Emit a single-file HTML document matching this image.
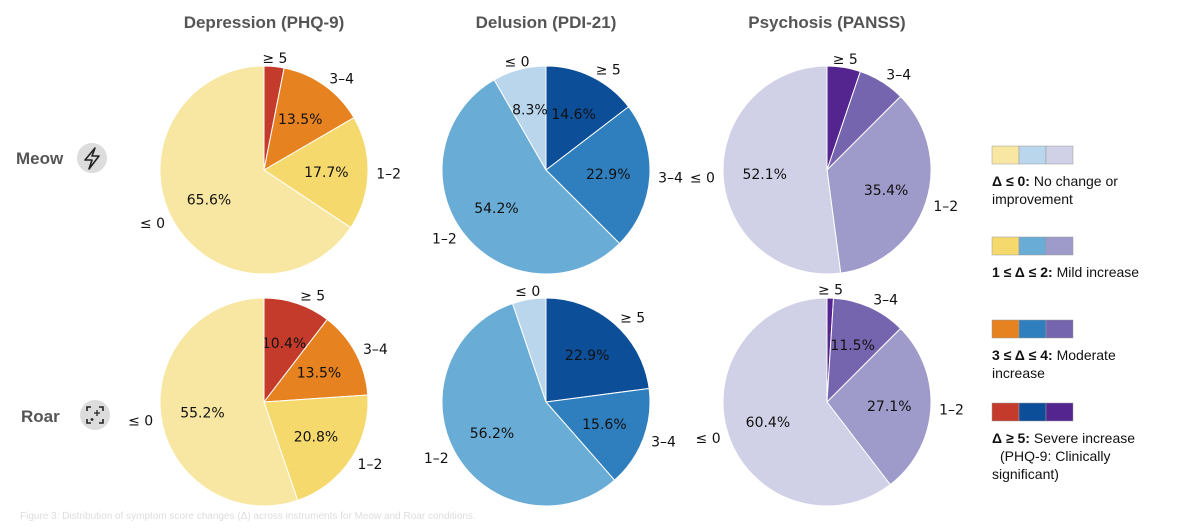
<!DOCTYPE html>
<html><head><meta charset="utf-8"><style>
body{margin:0;background:#fff;width:1183px;height:526px;overflow:hidden;font-family:"Liberation Sans",sans-serif}
</style></head><body>
<svg id="c" width="1183" height="526" xmlns="http://www.w3.org/2000/svg">
<g font-family="Liberation Sans, sans-serif" font-weight="bold" font-size="17" fill="#555" text-anchor="middle">
<text x="264" y="28">Depression (PHQ-9)</text>
<text x="546" y="28">Delusion (PDI-21)</text>
<text x="827" y="28">Psychosis (PANSS)</text>
</g>
<g>
<text x="16" y="164" font-weight="bold" font-size="17" fill="#555">Meow</text>
<circle cx="92" cy="158" r="15" fill="#dcdcdc"/>
<path d="M95 148 L85 160 L92 160 L89 169 L99 156 L92 156 Z" fill="none" stroke="#222" stroke-width="1.6" stroke-linejoin="round"/>
</g>
<g>
<text x="21" y="422" font-weight="bold" font-size="17" fill="#555">Roar</text>
<circle cx="95" cy="415" r="15" fill="#dcdcdc"/>
<path d="M87 411 v-4 h4 M99 407 h4 v4 M103 419 v4 h-4 M91 423 h-4 v-4" fill="none" stroke="#222" stroke-width="1.6"/>
<path d="M97 410 v6 M94 413 h6 M92 418 v3 M90.5 419.5 h3" stroke="#222" stroke-width="1.3"/>
</g>
<g id="pies"></g>
<g font-size="14" fill="#111" id="legend"></g>
<text x="20" y="519" font-size="10" fill="#ddd">Figure 3: Distribution of symptom score changes (Δ) across instruments for Meow and Roar conditions.</text>
</svg>
<script>
const categories = ["≥ 5","3–4","1–2","≤ 0"];
const rows = ["Meow","Roar"];
const instruments = ["Depression","Delusion","Psychosis"];
const depressionMeow = [3.1,13.5,17.7,65.6];
const delusionMeow = [14.6,22.9,54.2,8.3];
const psychosisMeow = [5.2,7.3,35.4,52.1];
const depressionRoar = [10.4,13.5,20.8,55.2];
const delusionRoar = [22.9,15.6,56.2,5.2];
const psychosisRoar = [1.0,11.5,27.1,60.4];
const palettes = [["#c43b2c","#e6821f","#f6d96c","#f8e7a2"],["#0c4e98","#2f7ebd","#69acd6","#b9d6ec"],["#54258e","#7565ae","#9e9ac9","#d0d1e6"]];
const data = [[depressionMeow,delusionMeow,psychosisMeow],[depressionRoar,delusionRoar,psychosisRoar]];
const NS="http://www.w3.org/2000/svg";
const cxs=[264,546,827], cys=[170,402], R=104;
const g=document.getElementById('pies');
function pt(cx,cy,r,a){return [cx+r*Math.sin(a), cy-r*Math.cos(a)];}
data.forEach((row,ri)=>row.forEach((vals,ci)=>{
  const cx=cxs[ci], cy=cys[ri]; const tot=vals.reduce((a,b)=>a+b,0);
  let a0=0;
  vals.forEach((v,k)=>{
    const a1=a0+v/tot*2*Math.PI;
    const p0=pt(cx,cy,R,a0), p1=pt(cx,cy,R,a1);
    const path=document.createElementNS(NS,'path');
    path.setAttribute('d',`M${cx} ${cy} L${p0[0]} ${p0[1]} A${R} ${R} 0 ${a1-a0>Math.PI?1:0} 1 ${p1[0]} ${p1[1]} Z`);
    path.setAttribute('fill',palettes[ci][k]);
    path.setAttribute('stroke','#fff');
    path.setAttribute('stroke-width','1');
    
    
    g.appendChild(path);
    const am=(a0+a1)/2;
    if(v>=8){
      const lp=pt(cx,cy,R*0.6,am);
      const t=document.createElementNS(NS,'text');
      t.setAttribute('x',lp[0]);t.setAttribute('y',lp[1]+5);
      t.setAttribute('text-anchor','middle');t.setAttribute('font-size','14');
      t.setAttribute('font-family','DejaVu Sans, sans-serif');t.setAttribute('fill','#111');
      t.textContent=v.toFixed(1)+'%';
      
      
      g.appendChild(t);
    }
    const cp=pt(cx,cy,R*1.08,am);
    const t2=document.createElementNS(NS,'text');
    t2.setAttribute('x',cp[0]);t2.setAttribute('y',cp[1]+5);
    const s=Math.sin(am);
    t2.setAttribute('text-anchor',s>0.3?'start':(s<-0.3?'end':'middle'));
    t2.setAttribute('font-size','14');t2.setAttribute('font-family','DejaVu Sans, sans-serif');t2.setAttribute('fill','#111');
    t2.textContent=categories[k];
    
    
    g.appendChild(t2);
    a0=a1;
  });
}));
const leg=document.getElementById('legend');
const legItems=[
 {k:3,y:146,b:"Δ ≤ 0:",r:[" No change or","improvement"]},
 {k:2,y:237,b:"1 ≤ Δ ≤ 2:",r:[" Mild increase"]},
 {k:1,y:320,b:"3 ≤ Δ ≤ 4:",r:[" Moderate","increase"]},
 {k:0,y:403,b:"Δ ≥ 5:",r:[" Severe increase","  (PHQ-9: Clinically","significant)"]}];
legItems.forEach(it=>{
  for(let i=0;i<3;i++){
    const r=document.createElementNS(NS,'rect');
    r.setAttribute('x',992+i*27);r.setAttribute('y',it.y);r.setAttribute('width',27);r.setAttribute('height',18);
    r.setAttribute('fill',palettes[i][it.k]);r.setAttribute('stroke','#999');r.setAttribute('stroke-width','0.5');
    
    
    leg.appendChild(r);
  }
  const t=document.createElementNS(NS,'text');
  t.setAttribute('x',992);t.setAttribute('y',it.y+40);
  t.setAttribute('xml:space','preserve');
  t.innerHTML=`<tspan font-weight="bold">${it.b}</tspan>${it.r[0]}`+it.r.slice(1).map(s=>`<tspan x="${s.startsWith('  ')?1000:992}" dy="18">${s.trim()}</tspan>`).join('');
  
  
  leg.appendChild(t);
});
</script>
</body></html>
